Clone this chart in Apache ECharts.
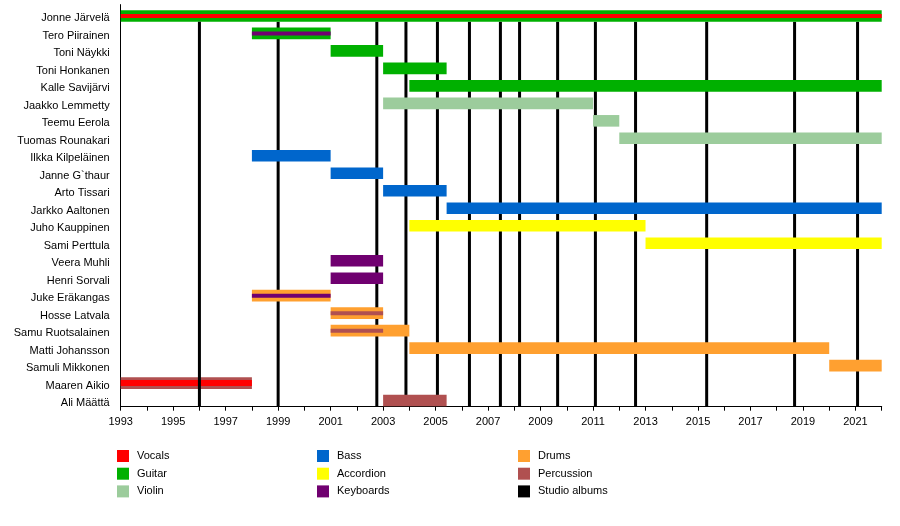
<!DOCTYPE html>
<html lang="en">
<head>
    <meta charset="UTF-8">
    <title>Band timeline</title>
    <script src="https://cdn.jsdelivr.net/npm/echarts@6/dist/echarts.min.js"></script>
    <style>
        * { padding: 0; margin: 0; }
        body { background: #fff; }
    </style>
</head>
<body>
<div id="timeline" style="width: 900px;height:526px;"></div>
<script>
    // rows, top to bottom
    var members = ['Jonne Järvelä', 'Tero Piirainen', 'Toni Näykki', 'Toni Honkanen', 'Kalle Savijärvi',
        'Jaakko Lemmetty', 'Teemu Eerola', 'Tuomas Rounakari', 'Ilkka Kilpeläinen', 'Janne G`thaur',
        'Arto Tissari', 'Jarkko Aaltonen', 'Juho Kauppinen', 'Sami Perttula', 'Veera Muhli', 'Henri Sorvali',
        'Juke Eräkangas', 'Hosse Latvala', 'Samu Ruotsalainen', 'Matti Johansson', 'Samuli Mikkonen',
        'Maaren Aikio', 'Ali Määttä'];

    // [member, role, from, to]
    var mainBars = [
        ['Jonne Järvelä', 'Guitar', 1993, 2022],
        ['Tero Piirainen', 'Guitar', 1998, 2001],
        ['Toni Näykki', 'Guitar', 2001, 2003],
        ['Toni Honkanen', 'Guitar', 2003, 2005.42],
        ['Kalle Savijärvi', 'Guitar', 2004, 2022],
        ['Jaakko Lemmetty', 'Violin', 2003, 2011],
        ['Teemu Eerola', 'Violin', 2011, 2012],
        ['Tuomas Rounakari', 'Violin', 2012, 2022],
        ['Ilkka Kilpeläinen', 'Bass', 1998, 2001],
        ['Janne G`thaur', 'Bass', 2001, 2003],
        ['Arto Tissari', 'Bass', 2003, 2005.42],
        ['Jarkko Aaltonen', 'Bass', 2005.42, 2022],
        ['Juho Kauppinen', 'Accordion', 2004, 2013],
        ['Sami Perttula', 'Accordion', 2013, 2022],
        ['Veera Muhli', 'Keyboards', 2001, 2003],
        ['Henri Sorvali', 'Keyboards', 2001, 2003],
        ['Juke Eräkangas', 'Drums', 1998, 2001],
        ['Hosse Latvala', 'Drums', 2001, 2003],
        ['Samu Ruotsalainen', 'Drums', 2001, 2004],
        ['Matti Johansson', 'Drums', 2004, 2020],
        ['Samuli Mikkonen', 'Drums', 2020, 2022],
        ['Maaren Aikio', 'Percussion', 1993, 1998],
        ['Ali Määttä', 'Percussion', 2003, 2005.42]
    ];

    // secondary roles, drawn as a thin stripe inside the bar
    var stripes = [
        ['Jonne Järvelä', 'Vocals', 1993, 2022],
        ['Tero Piirainen', 'Keyboards', 1998, 2001],
        ['Juke Eräkangas', 'Keyboards', 1998, 2001],
        ['Hosse Latvala', 'Percussion', 2001, 2003],
        ['Samu Ruotsalainen', 'Percussion', 2001, 2003],
        ['Maaren Aikio', 'Vocals', 1993, 1998]
    ];

    var albumYears = [1999, 2002.76, 2003.87, 2005.07, 2006.29, 2007.47, 2008.2, 2009.65,
        2011.09, 2012.62, 2015.33, 2018.68, 2021.08];
    var albumYearsFront = [1996];

    var legendCols = [
        ['Vocals', 'Guitar', 'Violin'],
        ['Bass', 'Accordion', 'Keyboards'],
        ['Drums', 'Percussion', 'Studio albums']
    ];

    var roleColors = {
        'Vocals': '#ff0000',
        'Guitar': '#00b000',
        'Violin': '#9ccc9c',
        'Bass': '#0066cc',
        'Accordion': '#ffff00',
        'Keyboards': '#700070',
        'Drums': '#ffa030',
        'Percussion': '#b05050'
    };

    var FONT = "'Liberation Sans', Arial, sans-serif";
    var BAR_H = 11.6, SHIFT = 2.6;

    function barRenderer(color, thick) {
        return function (params, api) {
            var row = api.value(2);
            var a = api.coord([api.value(0), row]);
            var b = api.coord([api.value(1), row]);
            var h = thick(members[row]);
            return {
                type: 'rect',
                shape: {x: a[0], y: a[1] + SHIFT - h / 2, width: b[0] - a[0], height: h},
                style: {fill: color}
            };
        };
    }

    function lineRenderer(params, api) {
        var x = api.coord([api.value(0), 0])[0];
        var top = api.coord([api.value(0), 0])[1] + SHIFT + BAR_H / 2;
        var bottom = params.coordSys.y + params.coordSys.height;
        return {
            type: 'line',
            shape: {x1: x, y1: top, x2: x, y2: bottom},
            style: {stroke: '#000', lineWidth: 3}
        };
    }

    function toData(list, role) {
        return list.filter(b => b[1] === role).map(b => [b[2], b[3], members.indexOf(b[0])]);
    }

    var series = [];
    Object.keys(roleColors).forEach(function (role) {
        var c = roleColors[role];
        series.push({
            type: 'custom', name: role, z: 3, itemStyle: {color: c},
            renderItem: barRenderer(c, () => BAR_H),
            encode: {x: [0, 1], y: 2},
            data: toData(mainBars, role)
        });
        series.push({
            type: 'custom', name: role, z: 4, itemStyle: {color: c},
            renderItem: barRenderer(c, m => m === 'Maaren Aikio' ? 6 : 4),
            encode: {x: [0, 1], y: 2},
            data: toData(stripes, role)
        });
    });
    series.push({
        type: 'custom', name: 'Studio albums', z: 1, itemStyle: {color: '#000'},
        renderItem: lineRenderer, encode: {x: 0, y: 1},
        data: albumYears.map(y => [y, 0])
    });
    series.push({
        type: 'custom', name: 'Studio albums', z: 6, itemStyle: {color: '#000'},
        renderItem: lineRenderer, encode: {x: 0, y: 1},
        data: albumYearsFront.map(y => [y, 0])
    });

    var legendLeft = [117, 317, 518];
    var chart = echarts.init(document.getElementById('timeline'));
    var option = {
        animation: false,
        grid: {left: 120.7, right: 18.3, top: 4.6, bottom: 119.3, containLabel: false},
        xAxis: {
            type: 'value', min: 1993, max: 2022, interval: 1,
            axisLine: {show: true, lineStyle: {color: '#000', width: 1}},
            axisTick: {show: true, length: 4, lineStyle: {color: '#000'}},
            splitLine: {show: false},
            axisLabel: {
                color: '#000', fontSize: 11, fontFamily: FONT, margin: 10,
                formatter: v => ((v - 1993) % 2 === 0 ? String(v) : '')
            }
        },
        yAxis: {
            type: 'category', inverse: true, data: members,
            axisLine: {show: true, lineStyle: {color: '#000', width: 1}},
            axisTick: {show: false},
            splitLine: {show: false},
            axisLabel: {
                color: '#000', fontSize: 11, fontFamily: FONT, margin: 11,
                verticalAlign: 'top', lineHeight: 10
            }
        },
        legend: legendCols.map(function (col, i) {
            return {
                data: col, orient: 'vertical', left: legendLeft[i], top: 450, padding: 0,
                icon: 'rect', itemWidth: 12, itemHeight: 12, itemGap: 5.7,
                selectedMode: false,
                textStyle: {color: '#000', fontSize: 11, fontFamily: FONT, padding: [0, 0, 0, 3]}
            };
        }),
        series: series
    };
    chart.setOption(option);
</script>
</body>
</html>
